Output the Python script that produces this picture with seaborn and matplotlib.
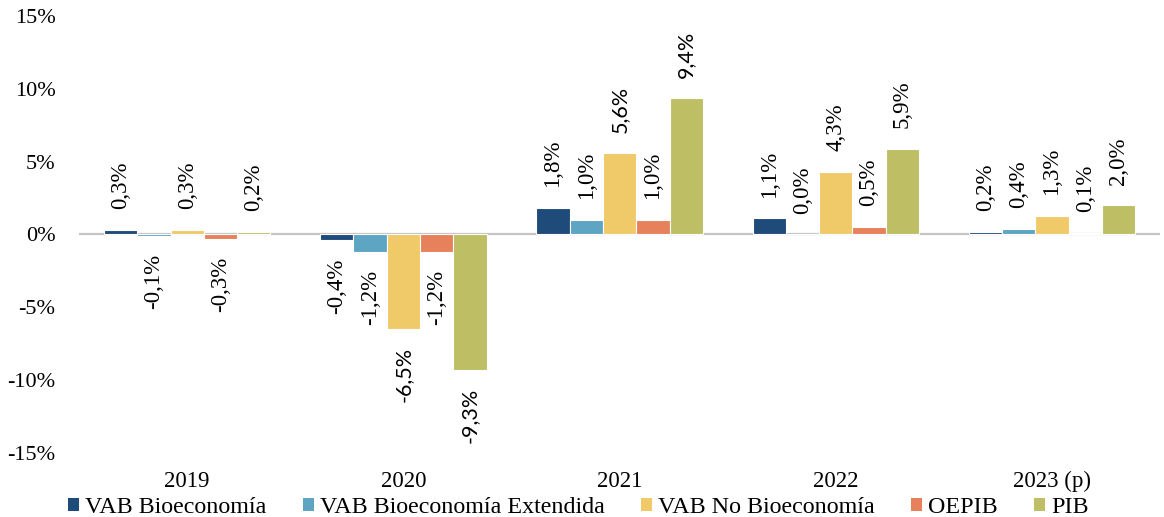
import matplotlib
matplotlib.use("Agg")
import matplotlib.pyplot as plt
import seaborn as sns
import pandas as pd
from matplotlib.ticker import FuncFormatter, MultipleLocator
from matplotlib.patches import Patch

years = ["2019", "2020", "2021", "2022", "2023 (p)"]
series = ["VAB Bioeconomía", "VAB Bioeconomía Extendida", "VAB No Bioeconomía", "OEPIB", "PIB"]
vab_bio = [0.3, -0.4, 1.8, 1.1, 0.2]
vab_bio_ext = [-0.1, -1.2, 1.0, 0.0, 0.4]
vab_no_bio = [0.3, -6.5, 5.6, 4.3, 1.3]
oepib = [-0.3, -1.2, 1.0, 0.5, 0.1]
pib = [0.2, -9.3, 9.4, 5.9, 2.0]
colors = ["#1F4B7A", "#5DA5C2", "#F0CA68", "#E6815B", "#BEBF65"]
# labels drawn in a sans font in the reference (series index, year index)
sans_labels = {(2, 1), (4, 1), (2, 2), (4, 2)}

values = [vab_bio, vab_bio_ext, vab_no_bio, oepib, pib]
rows = []
for s, vals in zip(series, values):
    for y, v in zip(years, vals):
        rows.append({"Año": y, "Serie": s, "Valor": v})
df = pd.DataFrame(rows)

sns.set_theme(style="white")
plt.rcParams["font.family"] = ["Liberation Serif", "DejaVu Serif"]
plt.rcParams["text.color"] = "black"
plt.rcParams["xtick.color"] = "black"
plt.rcParams["ytick.color"] = "black"
plt.rcParams["xtick.labelcolor"] = "black"
plt.rcParams["ytick.labelcolor"] = "black"

fig = plt.figure(figsize=(11.64, 5.17), dpi=100)
ax = fig.add_axes([0.068, 0.124, 0.9286, 0.845])

sns.barplot(data=df, x="Año", y="Valor", hue="Serie", order=years, hue_order=series,
            palette=colors, width=0.77, gap=0, edgecolor="white", linewidth=0.8,
            saturation=1, legend=False, ax=ax)

ax.set_ylim(-15, 15)
ax.yaxis.set_major_locator(MultipleLocator(5))
ax.yaxis.set_major_formatter(FuncFormatter(lambda v, p: f"{int(round(v))}%"))
ax.set_xlabel("")
ax.set_ylabel("")
for sp in ax.spines.values():
    sp.set_visible(False)
ax.axhline(0, color="#C4C4C4", linewidth=1.6, zorder=0.5)
ax.tick_params(axis="y", length=0, pad=17, labelsize=16, labelcolor="black")
ax.tick_params(axis="x", length=0, pad=13, labelsize=16.5, labelcolor="black")
ax.grid(False)
ax.set_xlim(-0.5, 4.5)

for si, (cont, vals) in enumerate(zip(ax.containers, values)):
    for yi, (bar, v) in enumerate(zip(cont, vals)):
        x = bar.get_x() + bar.get_width() / 2
        txt = f"{v:.1f}%".replace(".", ",")
        if (si, yi) in sans_labels:
            fam = ["Lato", "DejaVu Sans"]
            fs = 15.5
            off_pos = 14
        else:
            fam = ["Liberation Serif", "DejaVu Serif"]
            fs = 16.5
            off_pos = 15
        if v >= 0:
            ax.annotate(txt, (x, v), xytext=(0, off_pos), textcoords="offset points",
                        rotation=90, ha="center", va="bottom", fontsize=fs,
                        family=fam, color="black")
        else:
            ax.annotate(txt, (x, v), xytext=(0, -13), textcoords="offset points",
                        rotation=90, ha="center", va="top", fontsize=fs,
                        family=fam, color="black")

handles = [Patch(facecolor=c, edgecolor="none") for c in colors]
leg = fig.legend(handles, series, loc="lower center", bbox_to_anchor=(0.497, -0.044), ncol=5,
                 frameon=False, fontsize=17.3, handlelength=0.47, handleheight=0.47,
                 handletextpad=0.25, columnspacing=1.5)
for t in leg.get_texts():
    t.set_color("black")

fig.savefig("out.png", dpi=100)
